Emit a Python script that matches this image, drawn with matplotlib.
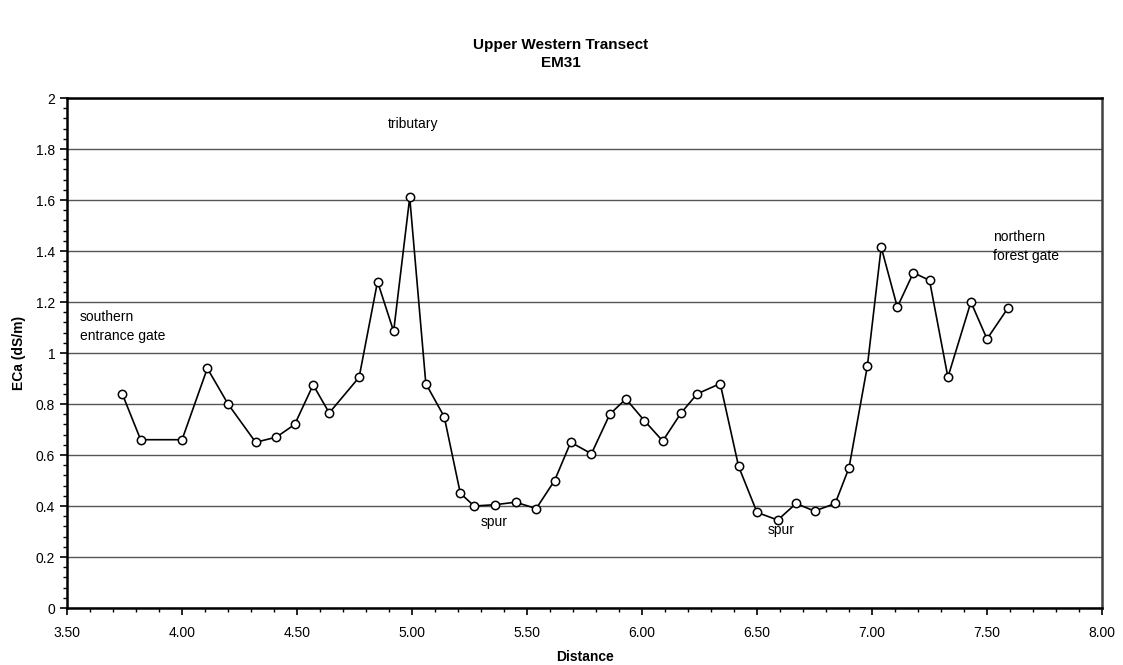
import matplotlib.pyplot as plt
from matplotlib.ticker import MultipleLocator, FormatStrFormatter

plt.rcParams['font.family'] = ['Liberation Sans', 'DejaVu Sans']

# EM31 readings along the upper western transect
distance = [3.74, 3.82, 4.00, 4.11, 4.20, 4.32, 4.41, 4.49, 4.57, 4.64,
            4.77, 4.85, 4.92, 4.99, 5.06, 5.14, 5.21, 5.27, 5.36, 5.45,
            5.54, 5.62, 5.69, 5.78, 5.86, 5.93, 6.01, 6.09, 6.17, 6.24,
            6.34, 6.42, 6.50, 6.59, 6.67, 6.75, 6.84, 6.90, 6.98, 7.04,
            7.11, 7.18, 7.25, 7.33, 7.43, 7.50, 7.59]
eca = [0.84, 0.66, 0.66, 0.94, 0.80, 0.65, 0.67, 0.72, 0.875, 0.765,
       0.905, 1.28, 1.085, 1.61, 0.88, 0.75, 0.45, 0.40, 0.405, 0.415,
       0.39, 0.50, 0.65, 0.605, 0.76, 0.82, 0.735, 0.655, 0.765, 0.84,
       0.88, 0.555, 0.375, 0.345, 0.41, 0.38, 0.41, 0.55, 0.95, 1.415,
       1.18, 1.315, 1.285, 0.905, 1.20, 1.055, 1.175]

labels = ["southern\nentrance gate", "tributary", "spur", "spur",
          "northern\nforest gate"]
label_x = [3.555, 4.893, 5.30, 6.545, 7.526]
label_y = [1.105, 1.90, 0.338, 0.307, 1.418]

fig = plt.figure(figsize=(11.23, 6.65), dpi=100)
ax = fig.add_axes([0.0597, 0.0857, 0.9216, 0.7669])

ax.plot(distance, eca, color='black', linewidth=1.2, marker='o',
        markersize=6, markerfacecolor='white', markeredgecolor='black',
        markeredgewidth=1.1, zorder=3)

for txt, lx, ly in zip(labels, label_x, label_y):
    ax.text(lx, ly, txt, fontsize=10, va='center', ha='left',
            linespacing=1.45)

ax.set_xlim(3.5, 8.0)
ax.set_ylim(0, 2)
ax.xaxis.set_major_locator(MultipleLocator(0.5))
ax.xaxis.set_minor_locator(MultipleLocator(0.1))
ax.xaxis.set_major_formatter(FormatStrFormatter('%.2f'))
ax.yaxis.set_minor_locator(MultipleLocator(0.04))
ax.set_yticks([0, 0.2, 0.4, 0.6, 0.8, 1, 1.2, 1.4, 1.6, 1.8, 2])
ax.set_yticklabels(['0', '0.2', '0.4', '0.6', '0.8', '1', '1.2', '1.4',
                    '1.6', '1.8', '2'])

ax.grid(axis='y', which='major', color='#555555', linewidth=1.0)
ax.set_axisbelow(True)

ax.tick_params(axis='both', which='major', direction='out', length=5,
               width=1.2, labelsize=10, color='black')
ax.tick_params(axis='both', which='minor', direction='out', length=3,
               width=1.0, color='black')
ax.tick_params(axis='x', pad=8)

for side in ['left', 'bottom', 'top', 'right']:
    ax.spines[side].set_linewidth(1.8)
ax.spines['right'].set_color('#404040')

ax.set_xlabel('Distance', fontsize=10, fontweight='bold', labelpad=7)
ax.set_ylabel('ECa (dS/m)', fontsize=10, fontweight='bold', labelpad=7)

fig.text(0.499, 0.932, 'Upper Western Transect', ha='center', va='center',
         fontsize=11, fontweight='bold')
fig.text(0.499, 0.905, 'EM31', ha='center', va='center',
         fontsize=11, fontweight='bold')

fig.savefig('out.png', dpi=100)
